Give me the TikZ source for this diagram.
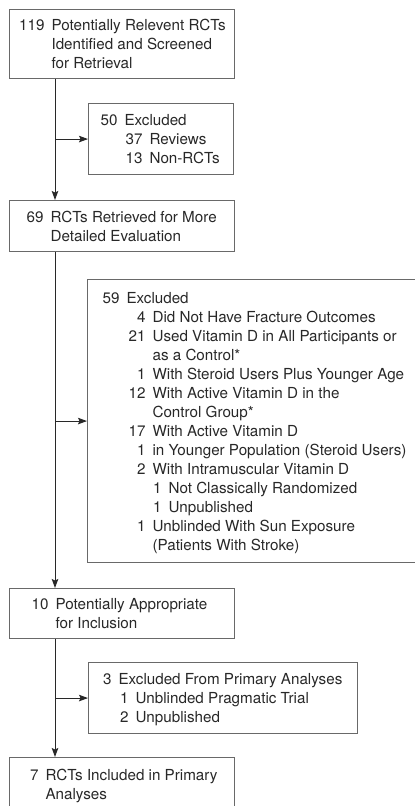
\documentclass[tikz,border=0pt]{standalone}
\usepackage{fontspec}
\setmainfont{TeX Gyre Heros}
\usetikzlibrary{arrows.meta}

\definecolor{edgegray}{RGB}{105,105,105}
\definecolor{inkgray}{RGB}{40,40,40}
% right aligned count followed by its label
\newcommand{\tally}[2]{\makebox[#1][r]{#2}\hspace{7pt}}
% box content: width, left padding, lines
\newcommand{\boxtext}[3]{\makebox[#1][l]{\hspace*{#2}%
	\raisebox{-2pt}[\height][\depth]{\begin{tabular}{@{}l@{}}#3\end{tabular}}}}

\begin{document}
\begin{tikzpicture}[x=1pt,y=-1pt,
	stage/.style={draw=edgegray, line width=1.1pt, anchor=north west, inner sep=0pt,
		text=inkgray, font=\fontsize{15.2}{19}\selectfont},
	flow/.style={draw=inkgray, line width=1pt, -{Stealth[length=9pt,width=6.5pt,inset=1.5pt]}}]
	\useasboundingbox (0,0) rectangle (415,806);

	%Left edge of the main column and of the exclusion column
	\pgfmathsetmacro{\xl}{9}
	\pgfmathsetmacro{\xr}{88}
	%Offset of the main line from the left edge
	\pgfmathsetmacro{\tap}{46}

	%Main column
	\draw node[stage, minimum height=69pt] (b1) at (\xl,9)
		{\boxtext{225pt}{8pt}{\tally{27pt}{119}Potentially Relevent RCTs\\
		 \hspace*{34pt}Identified and Screened\\
		 \hspace*{34pt}for Retrieval}};
	\draw node[stage, minimum height=51pt] (b3) at (\xl,200)
		{\boxtext{225pt}{16pt}{\tally{18pt}{69}RCTs Retrieved for More\\
		 \hspace*{25pt}Detailed Evaluation}};
	\draw node[stage, minimum height=50pt] (b5) at (\xl,588)
		{\boxtext{225pt}{18pt}{\tally{21pt}{10}Potentially Appropriate\\
		 \hspace*{28pt}for Inclusion}};
	\draw node[stage, minimum height=54pt] (b7) at (\xl,757)
		{\boxtext{225pt}{17pt}{\tally{12pt}{7}RCTs Included in Primary\\
		 \hspace*{19pt}Analyses}};

	%Exclusion column
	\draw node[stage, minimum height=71pt] (b2) at (\xr,103)
		{\boxtext{145pt}{11pt}{\tally{18pt}{50}Excluded\\
		 \hspace*{25pt}\tally{18pt}{37}Reviews\\
		 \hspace*{25pt}\tally{18pt}{13}Non-RCTs}};
	\draw node[stage, minimum height=283pt] (b4) at (\xr-1,279)
		{\boxtext{345pt}{15pt}{\tally{17pt}{59}Excluded\\
		 \hspace*{24pt}\tally{19pt}{4}Did Not Have Fracture Outcomes\\
		 \hspace*{24pt}\tally{19pt}{21}Used Vitamin D in All Participants or\\
		 \hspace*{50pt}as a Control*\\
		 \hspace*{24pt}\tally{19pt}{1}With Steroid Users Plus Younger Age\\
		 \hspace*{24pt}\tally{19pt}{12}With Active Vitamin D in the\\
		 \hspace*{50pt}Control Group*\\
		 \hspace*{24pt}\tally{19pt}{17}With Active Vitamin D\\
		 \hspace*{24pt}\tally{19pt}{1}in Younger Population (Steroid Users)\\
		 \hspace*{24pt}\tally{19pt}{2}With Intramuscular Vitamin D\\
		 \hspace*{50pt}\tally{9pt}{1}Not Classically Randomized\\
		 \hspace*{50pt}\tally{9pt}{1}Unpublished\\
		 \hspace*{24pt}\tally{19pt}{1}Unblinded With Sun Exposure\\
		 \hspace*{50pt}(Patients With Stroke)}};
	\draw node[stage, minimum height=71pt] (b6) at (\xr,662)
		{\boxtext{269pt}{15pt}{\tally{8pt}{3}Excluded From Primary Analyses\\
		 \hspace*{15pt}\tally{10pt}{1}Unblinded Pragmatic Trial\\
		 \hspace*{15pt}\tally{10pt}{2}Unpublished}};

	%Taps of the main line under each main box
	\path (b1.south west) ++(\tap,0) coordinate (t1);
	\path (b3.south west) ++(\tap,0) coordinate (t3);
	\path (b5.south west) ++(\tap,0) coordinate (t5);

	\draw[flow] (t1) -- (t1 |- b3.north);
	\draw[flow] (t3) -- (t3 |- b5.north);
	\draw[flow] (t5) -- (t5 |- b7.north);
	\draw[flow] (t1 |- b2.west) -- (b2.west);
	\draw[flow] (t3 |- b4.west) -- (b4.west);
	\draw[flow] (t5 |- b6.west) -- (b6.west);

\end{tikzpicture}
\end{document}
